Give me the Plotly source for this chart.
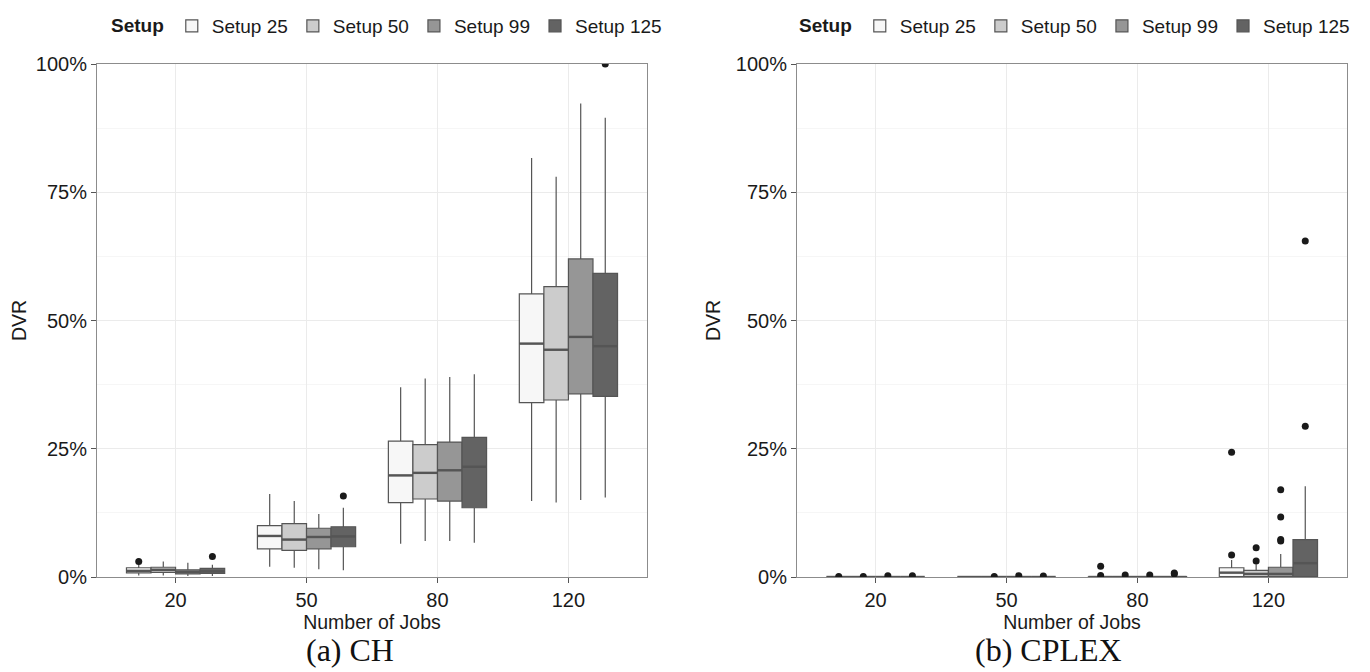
import plotly.graph_objects as go

jobs = ["20", "50", "80", "120"]
setups = ["Setup 25", "Setup 50", "Setup 99", "Setup 125"]
fills = ["#F7F7F7", "#CCCCCC", "#969696", "#636363"]

# ---- (a) CH : values in %, one list per setup over jobs [20, 50, 80, 120]
ch_lower = [[0.3, 2.0, 6.5, 14.8], [0.3, 1.8, 7.0, 14.5], [0.2, 1.5, 7.0, 15.0], [0.2, 1.3, 6.7, 15.5]]
ch_q1 = [[0.8, 5.5, 14.5, 34.0], [0.9, 5.2, 15.2, 34.5], [0.6, 5.5, 14.8, 35.7], [0.7, 5.9, 13.5, 35.2]]
ch_median = [[1.2, 8.0, 19.8, 45.5], [1.4, 7.3, 20.3, 44.3], [1.0, 7.8, 20.8, 46.8], [1.1, 7.9, 21.5, 45.0]]
ch_q3 = [[1.8, 10.0, 26.5, 55.2], [1.9, 10.4, 25.8, 56.6], [1.4, 9.5, 26.3, 62.0], [1.7, 9.8, 27.2, 59.2]]
ch_upper = [[2.5, 16.2, 37.0, 81.7], [3.0, 14.8, 38.7, 78.0], [2.8, 12.3, 39.0, 92.3], [2.4, 13.5, 39.5, 89.5]]
ch_outliers = [
    [[3.0], [], [], []],
    [[], [], [], []],
    [[], [], [], []],
    [[4.0], [15.8], [], [100.0]],
]

# ---- (b) CPLEX
cp_lower = [[0, 0, 0, 0], [0, 0, 0, 0], [0, 0, 0, 0], [0, 0, 0, 0]]
cp_q1 = [[0, 0, 0, 0.1], [0, 0, 0, 0.1], [0, 0, 0, 0.1], [0, 0, 0, 0.1]]
cp_median = [[0, 0, 0, 0.85], [0, 0, 0, 0.6], [0, 0, 0, 0.6], [0, 0, 0, 2.7]]
cp_q3 = [[0, 0, 0.05, 1.8], [0, 0, 0.05, 1.3], [0, 0, 0.05, 1.9], [0, 0, 0.1, 7.3]]
cp_upper = [[0, 0, 0.1, 3.3], [0, 0, 0.1, 2.5], [0, 0, 0.1, 4.5], [0, 0, 0.2, 17.7]]
cp_outliers = [
    [[0.1], [], [0.3, 2.1], [4.3, 24.3]],
    [[0.1], [0.1], [0.4], [3.1, 5.7]],
    [[0.25], [0.25], [0.4], [7.0, 7.3, 11.7, 17.0]],
    [[0.25], [0.2], [0.6, 0.8], [29.4, 65.5]],
]

y_ticks = [0, 25, 50, 75, 100]
y_minor = [12.5, 37.5, 62.5, 87.5]

group_width = 0.75
n = len(setups)
box_w = group_width / n
offsets = [(-group_width / 2 + box_w * (i + 0.5)) for i in range(n)]
base = list(range(1, len(jobs) + 1))

fig = go.Figure()

panels = [
    ("x", "y", "legend", ch_lower, ch_q1, ch_median, ch_q3, ch_upper, ch_outliers),
    ("x2", "y2", "legend2", cp_lower, cp_q1, cp_median, cp_q3, cp_upper, cp_outliers),
]

edge = "#555555"
for xa, ya, lg, lo, q1, md, q3, up, outl in panels:
    for i, s in enumerate(setups):
        xs = [b + offsets[i] for b in base]
        fig.add_trace(go.Box(
            x=xs, q1=q1[i], median=md[i], q3=q3[i],
            lowerfence=lo[i], upperfence=up[i],
            width=box_w, whiskerwidth=0, boxpoints=False,
            fillcolor=fills[i], line=dict(color=edge, width=1.2),
            name=s, legend=lg, xaxis=xa, yaxis=ya, hoverinfo="skip",
        ))
        # thicker median segments (as in ggplot)
        mx, my = [], []
        for j, x0 in enumerate(xs):
            mx += [x0 - box_w / 2, x0 + box_w / 2, None]
            my += [md[i][j], md[i][j], None]
        fig.add_trace(go.Scatter(
            x=mx, y=my, mode="lines", line=dict(color=edge, width=2.4),
            showlegend=False, xaxis=xa, yaxis=ya, hoverinfo="skip",
        ))
        ox, oy = [], []
        for j, vals in enumerate(outl[i]):
            for v in vals:
                ox.append(xs[j])
                oy.append(v)
        fig.add_trace(go.Scatter(
            x=ox, y=oy, mode="markers",
            marker=dict(color="#1a1a1a", size=7),
            showlegend=False, xaxis=xa, yaxis=ya, hoverinfo="skip",
        ))

# the page body adds an 8px margin; layout is expressed in page pixels minus that
OFF = 8
W, H = 1370 - OFF, 672 - OFF

def px_x(p):
    return (p - OFF) / W

def px_y(p):
    return 1 - (p - OFF) / H

dom_left = [px_x(97), px_x(647)]
dom_right = [px_x(797), px_x(1347)]
dom_y = [px_y(577), px_y(64)]

sans = "Liberation Sans, Arial, Helvetica, sans-serif"
tick_font = dict(family=sans, size=20, color="#1a1a1a")
title_font = dict(family=sans, size=19.5, color="#1a1a1a")

def xaxis(domain, anchor):
    return dict(
        domain=domain, anchor=anchor, range=[0.4, len(jobs) + 0.6],
        tickvals=base, ticktext=jobs, showgrid=True, gridcolor="#EBEBEB", gridwidth=1,
        zeroline=False, showline=True, linecolor="#8c8c8c", linewidth=1, mirror=True,
        ticks="outside", ticklen=5, tickcolor="#555555", tickfont=tick_font,
        title=dict(text="Number of Jobs", font=title_font, standoff=4),
    )

def yaxis(domain, anchor):
    return dict(
        domain=domain, anchor=anchor, range=[0, 100],
        tickvals=y_ticks, ticktext=[f"{v}%" for v in y_ticks],
        showgrid=True, gridcolor="#EBEBEB", gridwidth=1,
        minor=dict(tickvals=y_minor, showgrid=True, gridcolor="#F6F6F6", ticks=""),
        zeroline=False, showline=True, linecolor="#8c8c8c", linewidth=1, mirror=True,
        ticks="outside", ticklen=5, tickcolor="#555555", tickfont=tick_font,
        title=dict(text="DVR", font=title_font, standoff=10),
    )

legend_common = dict(
    orientation="h", yanchor="middle", y=px_y(26), xanchor="center",
    font=dict(family=sans, size=19, color="#1a1a1a"),
    title=dict(text="<b>Setup</b>", side="left",
               font=dict(family=sans, size=19, color="#1a1a1a")),
    bgcolor="rgba(0,0,0,0)", itemwidth=30, tracegroupgap=0, valign="middle",
)

serif = dict(family="Liberation Serif, Times New Roman, serif", size=32, color="#111111")

fig.update_layout(
    width=W, height=H,
    margin=dict(l=0, r=0, t=0, b=0, autoexpand=False),
    paper_bgcolor="white", plot_bgcolor="white",
    showlegend=True,
    xaxis=xaxis(dom_left, "y"), yaxis=yaxis(dom_y, "x"),
    xaxis2=xaxis(dom_right, "y2"), yaxis2=yaxis(dom_y, "x2"),
    legend=dict(legend_common, x=px_x(388)),
    legend2=dict(legend_common, x=px_x(1076)),
    annotations=[
        dict(text="(a) CH", x=px_x(350), y=px_y(650), xanchor="center", yanchor="middle",
             xref="paper", yref="paper", showarrow=False, font=serif),
        dict(text="(b) CPLEX", x=px_x(1048), y=px_y(650), xanchor="center", yanchor="middle",
             xref="paper", yref="paper", showarrow=False, font=serif),
    ],
)

fig.write_html("out.html")
